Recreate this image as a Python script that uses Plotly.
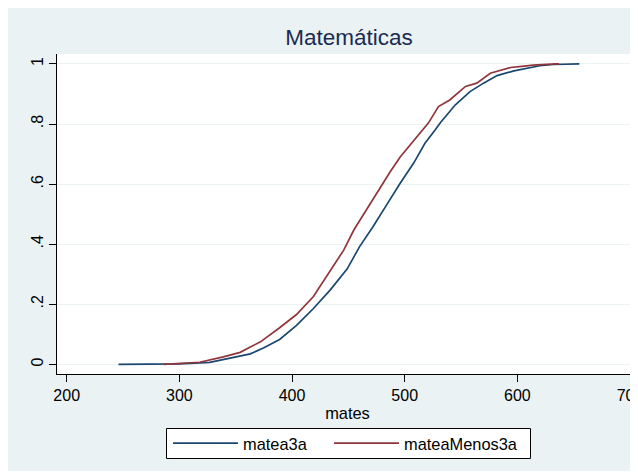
import plotly.graph_objects as go

# ---- data ----
blue_name = "matea3a"
blue_x = [246, 300, 327, 345, 363, 375, 389, 404, 419, 434, 449, 460, 472, 484,
          496, 508, 518, 527, 532, 545, 558, 570, 582, 597, 612, 620, 632, 655]
blue_y = [0, 0.002, 0.007, 0.02, 0.035, 0.055, 0.083, 0.13, 0.186, 0.248, 0.318,
          0.392, 0.459, 0.531, 0.603, 0.67, 0.736, 0.78, 0.806, 0.864, 0.908,
          0.936, 0.961, 0.977, 0.987, 0.994, 0.998, 1.0]

red_name = "mateaMenos3a"
red_x = [286, 318, 339, 345, 354, 363, 372, 389, 404, 419, 434, 446, 455, 466,
         478, 487, 496, 505, 511, 521, 530, 540, 554, 564, 576, 585, 594, 604,
         614, 634, 637]
red_y = [0, 0.007, 0.025, 0.032, 0.04, 0.058, 0.075, 0.122, 0.166, 0.226, 0.31,
         0.381, 0.448, 0.514, 0.59, 0.64, 0.69, 0.731, 0.758, 0.803, 0.858, 0.88,
         0.925, 0.936, 0.969, 0.978, 0.988, 0.992, 0.996, 1.0, 1.0]

x_ticks = [200, 300, 400, 500, 600, 700]
y_ticks = [0, 0.2, 0.4, 0.6, 0.8, 1]
y_tick_text = ["0", ".2", ".4", ".6", ".8", "1"]

title_text = "Matemáticas"
x_title = "mates"

# ---- layout constants ----
# the page body adds an 8px margin; figure pixels = page pixels - OFF
OFF = 8
W, H = 630, 463
ML, MR, MT, MB = 49, 0, 46, 97
PW, PH = W - ML - MR, H - MT - MB

def px_x(page_x):
    return (page_x - OFF - ML) / PW

def px_y(page_y):
    return (H - MB - (page_y - OFF)) / PH

GREY = "#EAF2F3"
FONT = "Liberation Sans, Arial, sans-serif"

fig = go.Figure()
fig.add_trace(go.Scatter(x=blue_x, y=blue_y, mode="lines", name=blue_name,
                         legend="legend",
                         line=dict(color="#1A476F", width=1.7)))
fig.add_trace(go.Scatter(x=red_x, y=red_y, mode="lines", name=red_name,
                         legend="legend2",
                         line=dict(color="#90353B", width=1.7)))

shapes = [
    # legend frame
    dict(type="rect", xref="paper", yref="paper",
         x0=px_x(166.5), x1=px_x(530.5), y0=px_y(458.5), y1=px_y(428.5),
         fillcolor="white", line=dict(color="black", width=1), layer="above"),
]

leg_common = dict(orientation="h", xanchor="left", yanchor="middle",
                  bgcolor="rgba(0,0,0,0)", borderwidth=0,
                  font=dict(size=16.4, color="black", family=FONT),
                  itemwidth=65)

fig.update_layout(
    width=W, height=H,
    margin=dict(l=ML, r=MR, t=MT, b=MB, pad=0, autoexpand=False),
    paper_bgcolor=GREY, plot_bgcolor="white",
    font=dict(family=FONT, size=16, color="black"),
    title=dict(text=title_text, x=px_x(349), xref="paper", xanchor="center",
               y=1 - (37 - OFF) / H, yanchor="middle",
               font=dict(size=22.5, color="#1C2B52", family=FONT)),
    showlegend=True,
    legend=dict(x=px_x(168), y=px_y(443.5), **leg_common),
    legend2=dict(x=px_x(329), y=px_y(443.5), **leg_common),
    shapes=shapes,
)

fig.update_xaxes(range=[191.4, 707.1], tickvals=x_ticks, ticks="outside", ticklen=7,
                 tickcolor="black", showline=True, linecolor="black", linewidth=1,
                 showgrid=False, zeroline=False, automargin=False,
                 ticklabeloverflow="allow",
                 tickfont=dict(size=16, color="black"),
                 title=dict(text=x_title, font=dict(size=16.4, color="black"), standoff=4))
fig.update_yaxes(range=[-0.032, 1.033], tickvals=y_ticks, ticktext=y_tick_text,
                 ticks="outside", ticklen=7, tickcolor="black", tickangle=-90,
                 showline=True, linecolor="black", linewidth=1, automargin=False,
                 showgrid=True, gridcolor=GREY, gridwidth=1, zeroline=False,
                 tickfont=dict(size=16, color="black"))

fig.write_html("out.html")
